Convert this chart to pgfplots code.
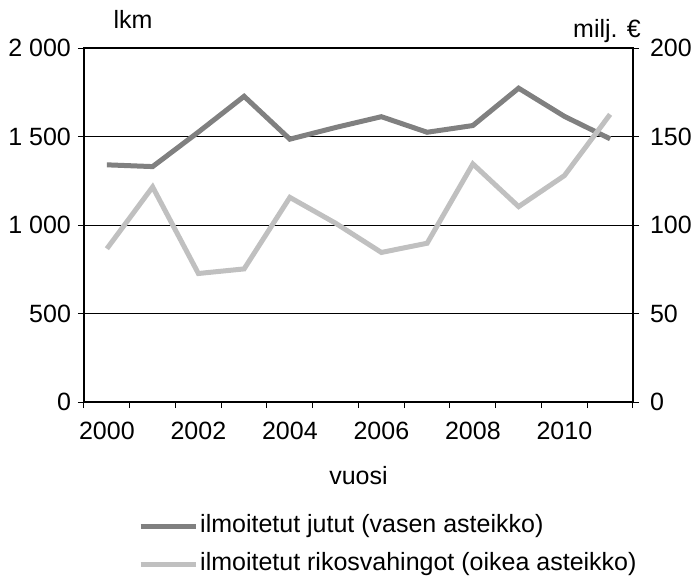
\documentclass[border=0pt]{standalone}
\usepackage{pgfplots}
\pgfplotsset{compat=1.18}
\usepackage{fontspec}
\setmainfont{Liberation Sans}
\definecolor{darkline}{RGB}{128,128,128}
\definecolor{lightline}{RGB}{192,192,192}
\newcommand{\fs}{\fontsize{12.5}{15}\selectfont}
\begin{document}
\begin{tikzpicture}
\useasboundingbox (-42pt,-86.5pt) rectangle (304pt,201pt);
\pgfplotsset{
  common/.style={
    scale only axis, width=274.5pt, height=177pt,
    xmin=-0.5, xmax=11.5, ymin=0,
    tick align=outside,
    /pgf/number format/assume math mode=true,
    every tick label/.append style={font=\fs},
    major tick length=3pt,
    tick style={black, line width=0.5pt},
  }
}
\begin{axis}[common, name=main,
  ymax=2000,
  axis line style={black, line width=1pt},
  ytick={0,500,1000,1500,2000},
  yticklabels={0,500,1 000,1 500,2 000},
  ytick pos=left,
  ymajorgrids, grid style={black, line width=0.5pt},
  xtick={-0.5,0.5,...,11.5},
  xticklabels={},
  xtick pos=bottom,
  extra x ticks={0,2,4,6,8,10},
  extra x tick labels={2000,2002,2004,2006,2008,2010},
  extra x tick style={major tick length=0pt, xmajorgrids=false,
     xticklabel style={anchor=base, yshift=-18.5pt}},
  xlabel={vuosi},
  xlabel style={font=\fs, at={(axis description cs:0.5,0)}, anchor=base, yshift=-41pt},
  legend cell align=left,
  legend style={draw=none, fill=none, inner sep=0pt, row sep=5pt,
    font=\fs,
    nodes={text height=9pt, text depth=3pt, inner sep=1pt},
    at={(axis description cs:0.098,0)}, yshift=-71.5pt, anchor=west},
  legend image code/.code={\draw[#1] (0pt,0pt) -- (27.5pt,0pt);},
]
\addplot[darkline, line width=2.5pt, line join=miter] coordinates {
(0,1340) (1,1330) (2,1525) (3,1727) (4,1485) (5,1551)
(6,1612) (7,1524) (8,1562) (9,1773) (10,1614) (11,1487)};
\addlegendentry{ilmoitetut jutut (vasen asteikko)}
\addlegendimage{lightline, line width=2.5pt}
\addlegendentry{ilmoitetut rikosvahingot (oikea asteikko)}
\end{axis}
\begin{axis}[common,
  ymax=200,
  axis x line=none,
  axis y line*=right,
  axis line style={black, line width=1pt},
  ytick={0,50,100,150,200},
  yticklabel style={xshift=2pt},
]
\addplot[lightline, line width=2.5pt, line join=miter] coordinates {
(0,86.6) (1,121.5) (2,72.6) (3,75.2) (4,115.6) (5,101)
(6,84.5) (7,89.7) (8,134.5) (9,110.4) (10,127.9) (11,162.5)};
\end{axis}
\node[font=\fs] at (main.north west) [xshift=24.5pt, yshift=14.5pt] {lkm};
\node[font=\fs, anchor=base] at (main.north west) [xshift=261.5pt, yshift=5.5pt] {milj. €};
\end{tikzpicture}
\end{document}
